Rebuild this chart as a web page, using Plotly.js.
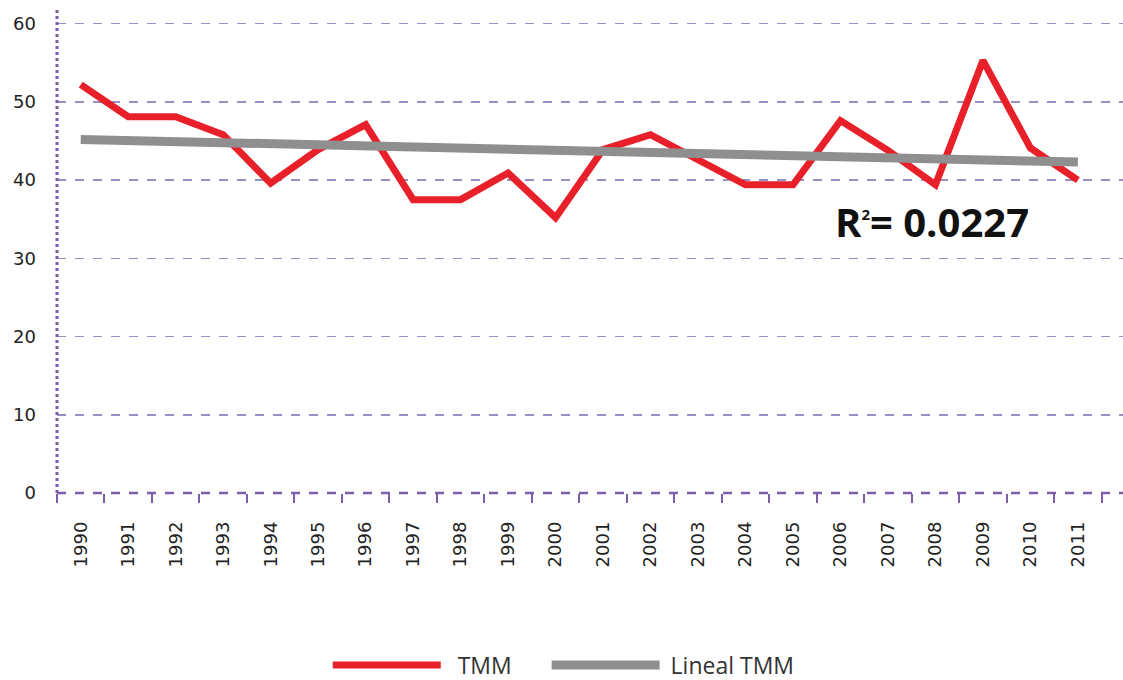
<!DOCTYPE html>
<html>
<head>
<meta charset="utf-8">
<script src="https://cdn.plot.ly/plotly-3.0.1.min.js"></script>
<style>html,body{margin:0;padding:0;background:#fff;}#chart{width:1123px;height:680px;}</style>
</head>
<body>
<div id="chart"></div>
<script>
const years = ['1990','1991','1992','1993','1994','1995','1996','1997','1998','1999','2000','2001','2002','2003','2004','2005','2006','2007','2008','2009','2010','2011'];
const tmm = [52.2, 48.1, 48.1, 45.8, 39.6, 43.9, 47.1, 37.5, 37.5, 40.9, 35.2, 43.9, 45.8, 42.6, 39.4, 39.4, 47.6, 43.8, 39.4, 55.3, 44.1, 40.0];
const trendYears = ['1990', '2011'];
const trendVals = [45.2, 42.3];
const yTicks = [0, 10, 20, 30, 40, 50, 60];
const seriesNames = ['TMM', 'Lineal TMM'];
const r2Text = 'R<sup><span style="font-size:15px">2</span></sup>= 0.0227';

const purple = '#7b5ea7';
const font = '"Open Sans", "Noto Sans", sans-serif';
const tickFont = '"DejaVu Sans", sans-serif';
const nb = n => '\u00a0'.repeat(n);

const traces = [
  {x: years, y: tmm, type: 'scatter', mode: 'lines', name: nb(2) + seriesNames[0] + nb(5),
   line: {color: '#e8202a', width: 7, shape: 'linear'}},
  {x: trendYears, y: trendVals, type: 'scatter', mode: 'lines', name: nb(1) + seriesNames[1],
   line: {color: '#8f8f8f', width: 9}}
];

const layout = {
  width: 1123, height: 680,
  margin: {l: 57, r: 0, t: 8, b: 187},
  paper_bgcolor: '#fff', plot_bgcolor: '#fff',
  font: {family: font, color: '#333', size: 16},
  showlegend: true,
  legend: {orientation: 'h', x: 0.502, xanchor: 'center', xref: 'container',
           y: 0.022, yanchor: 'middle', yref: 'container',
           font: {size: 23, color: '#333', family: font}, itemwidth: 108, tracegroupgap: 0},
  xaxis: {type: 'category', categoryarray: years, range: [-0.5, 21.95], automargin: false,
          tickangle: -90, tickson: 'boundaries', ticks: 'outside', ticklen: 9, tickwidth: 2,
          tickcolor: purple, showgrid: false, showline: false, zeroline: false,
          ticklabelstandoff: 24, tickfont: {size: 18, color: '#222', family: tickFont}},
  yaxis: {range: [0, 62], tickvals: yTicks, ticktext: yTicks.map(String), automargin: false,
          showgrid: true, gridcolor: '#9a8fc4', gridwidth: 1.5, griddash: 'dash',
          zeroline: false, showline: false, ticks: '', ticklabelstandoff: 20,
          tickfont: {size: 18, color: '#222', family: tickFont}},
  shapes: [
    {type: 'line', xref: 'paper', yref: 'paper', x0: 0, x1: 0, y0: 0, y1: 1,
     line: {color: purple, width: 3, dash: 'dot'}},
    {type: 'line', xref: 'paper', yref: 'paper', x0: 0, x1: 1, y0: 0, y1: 0,
     line: {color: purple, width: 2.5, dash: 'dash'}}
  ],
  annotations: [
    {xref: 'paper', yref: 'y', x: 0.821, y: 34.7, text: r2Text, showarrow: false,
     font: {size: 40, color: '#111', family: font, weight: 'bold'}, xanchor: 'center', yanchor: 'middle'}
  ]
};

Plotly.newPlot('chart', traces, layout, {displayModeBar: false, staticPlot: true});
</script>
</body>
</html>
